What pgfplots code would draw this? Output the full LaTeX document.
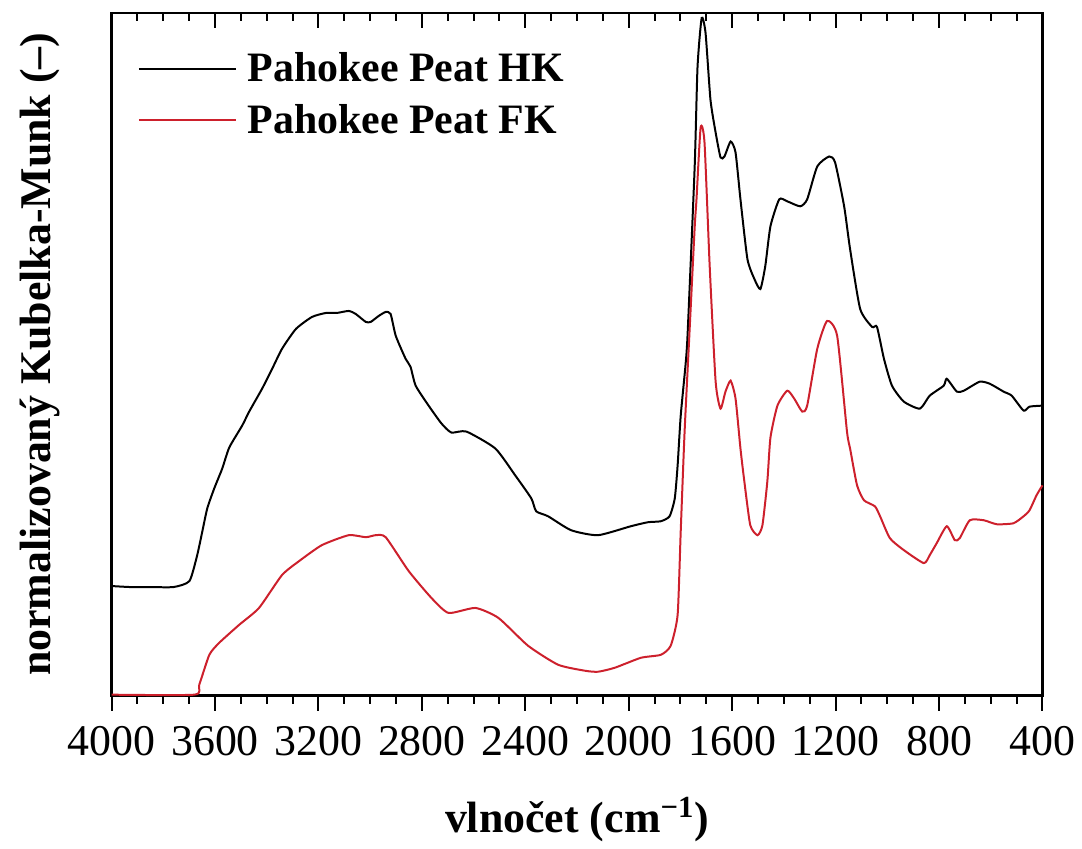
\documentclass[border=0pt]{standalone}
\usepackage{fontspec}
\setmainfont{Liberation Serif}
\usepackage{pgfplots}
\pgfplotsset{compat=1.18}
\definecolor{fkred}{RGB}{205,32,44}
\begin{document}
\begin{tikzpicture}
\begin{axis}[
  at={(0pt,0pt)}, anchor=south west,
  scale only axis, width=467pt, height=342.5pt,
  x dir=reverse, xmin=400, xmax=4000, ymin=0, ymax=685,
  clip=false,
  xtick={400,800,1200,1600,2000,2400,2800,3200,3600,4000},
  ytick=\empty,
  major tick length=0pt,
  xtick style={draw=none},
  axis line style={line width=1.2pt},
  /pgf/number format/1000 sep={},
  /pgf/number format/assume math mode=true,
  xticklabel style={font=\fontsize{22}{26}\selectfont, anchor=base, yshift=-30pt},
  xlabel={vlnočet (cm\textsuperscript{−1})},
  xlabel style={font=\bfseries\fontsize{22}{26}\selectfont, at={(axis description cs:0.5,-0.2)}, anchor=base},
  ylabel={normalizovaný Kubelka-Munk (–)},
  ylabel style={font=\bfseries\fontsize{22}{26}\selectfont, at={(axis description cs:-0.077,0.5)}, anchor=center},
  legend style={draw=none, fill=none, inner sep=0pt, at={(axis description cs:0.0278,0.948)}, anchor=north west,
    font=\bfseries\fontsize{21}{25}\selectfont, row sep=5.7pt, nodes={inner sep=2pt}},
  legend image code/.code={\draw[#1] (0pt,0pt) -- (48.5pt,0pt);},
  legend cell align=left,
  every axis legend/.append style={column sep=3.5pt},
]
\addplot[black, line width=1pt, smooth, tension=0.35] coordinates {
(4000,110) (3930,109) (3853,109) (3760,109) (3699,115) (3669,141) (3649,165) (3630,188) (3603,208)
(3572,228) (3545,249) (3495,271) (3468,285) (3418,308) (3379,328) (3341,348) (3287,368) (3225,380)
(3171,384) (3129,384) (3083,386) (3056,383) (3017,375) (2998,375) (2967,381) (2940,385) (2921,383)
(2901,361) (2863,338) (2844,330) (2824,311) (2774,291) (2724,273) (2686,264) (2628,265) (2516,248)
(2439,221) (2377,198) (2358,185) (2312,180) (2223,166) (2119,161) (1992,170) (1926,174) (1876,175)
(1842,180) (1822,198) (1811,231) (1799,281) (1780,333) (1772,365) (1745,531) (1734,631) (1718,680)
(1703,665) (1684,598) (1664,565) (1645,540) (1630,541) (1606,556) (1587,545) (1568,498) (1541,438)
(1514,418) (1491,408) (1472,431) (1452,471) (1418,498) (1387,496) (1337,491) (1310,498) (1271,531)
(1225,541) (1202,535) (1167,491) (1144,448) (1105,388) (1059,370) (1040,370) (1013,338) (982,311)
(936,295) (874,288) (836,301) (782,311) (770,318) (731,305) (704,306) (643,315) (604,313) (550,305)
(519,301) (473,286) (450,290) (400,291)
};
\addlegendentry{Pahokee Peat HK}
\addplot[fkred, line width=1pt, smooth, tension=0.35] coordinates {
(4000,1) (3680,1) (3661,11) (3622,41) (3584,53) (3507,71) (3430,88) (3341,121) (3275,135) (3187,151)
(3083,161) (3017,159) (2979,161) (2940,159) (2851,125) (2763,98) (2697,83) (2593,88) (2504,78)
(2389,50) (2273,31) (2169,25) (2119,24) (2054,28) (1953,38) (1876,41) (1838,50) (1811,81) (1799,165)
(1784,265) (1765,365) (1745,470) (1738,498) (1722,570) (1707,555) (1687,431) (1664,315) (1645,288)
(1626,305) (1606,316) (1587,298) (1568,248) (1553,215) (1530,171) (1502,161) (1483,171) (1464,215)
(1452,259) (1425,291) (1387,306) (1360,298) (1329,285) (1310,291) (1271,348) (1233,376) (1194,361)
(1156,265) (1144,248) (1117,211) (1090,196) (1048,190) (1028,180) (990,158) (936,146) (859,133)
(836,141) (809,153) (770,170) (739,156) (720,158) (681,176) (627,176) (577,172) (512,173) (473,180)
(450,186) (423,201) (400,211)
};
\addlegendentry{Pahokee Peat FK}
% tick marks: major every 400, minor every 100; outward at the bottom, inward at the top
\pgfplotsinvokeforeach{400,800,1200,1600,2000,2400,2800,3200,3600,4000}{
  \draw[black, line width=1pt] (axis cs:#1,0) -- ++(0pt,-7.5pt);
  \draw[black, line width=1pt] (axis cs:#1,685) -- ++(0pt,-7.5pt);
}
\pgfplotsinvokeforeach{500,600,700,900,1000,1100,1300,1400,1500,1700,1800,1900,2100,2200,2300,2500,2600,2700,2900,3000,3100,3300,3400,3500,3700,3800,3900}{
  \draw[black, line width=1pt] (axis cs:#1,0) -- ++(0pt,-4pt);
  \draw[black, line width=1pt] (axis cs:#1,685) -- ++(0pt,-4pt);
}
\end{axis}
\path (-56pt,-72.5pt) rectangle (485pt,349pt);
\end{tikzpicture}
\end{document}
